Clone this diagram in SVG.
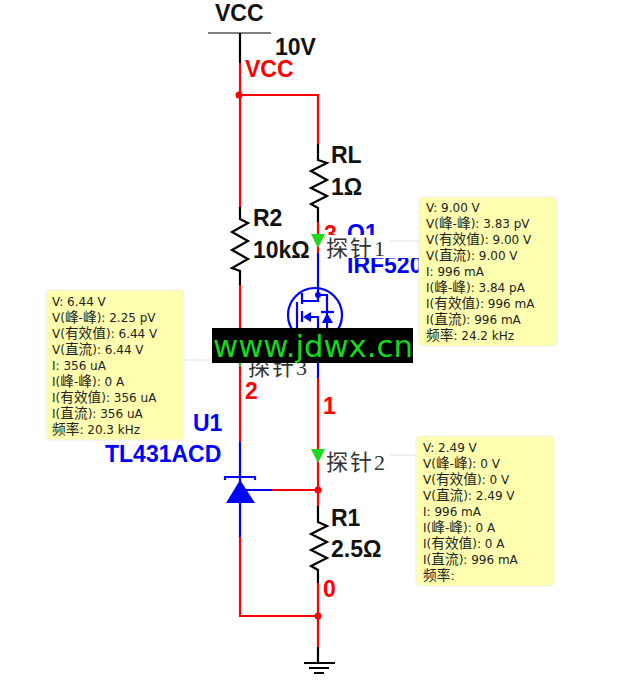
<svg xmlns="http://www.w3.org/2000/svg" width="624" height="688" viewBox="0 0 624 688">
<style>
.w{fill:none;stroke-width:2.2;stroke-linejoin:miter}
.r{stroke:#f00}.k{stroke:#000}.b{stroke:#00f}
.l{font:bold 23px "Liberation Sans",Arial,sans-serif}
.blk{fill:#111}.red{fill:#f00}.blu{fill:#00f}
.p{font:22px "Liberation Serif","Noto Sans CJK SC",serif;fill:#333;letter-spacing:2px}
.tip{fill:#ffffb0;stroke:#eee;stroke-width:1}
.t{font:12px "DejaVu Sans","Noto Sans CJK SC",sans-serif;fill:#222}
.c{font-size:13.7px}
.g{stroke:#e4e4e4;stroke-width:1;fill:none}
.pr{fill:#1fd81f}
.bg{fill:#fff}
</style>
<rect width="624" height="688" fill="#fff"/>
<g id="connectors">
<path class="w k" d="M240 33V63"/>
<path class="w r" d="M240 63V207M240 285V442M240 95H318V144"/>
<path class="w r" d="M318 222V253M318 378V506M318 583V647M240 537V616H318M272 490H318"/>
<path class="w b" d="M240 442V537M240 490H272M318 253V295M318 363V378"/>
<path class="w k" d="M318 647V662"/>
<circle class="red" cx="239" cy="95" r="3.5"/>
<circle class="red" cx="318" cy="490" r="3.5"/>
<circle class="red" cx="318" cy="616" r="3.5"/>
</g>
<g id="VCC">
<path d="M208 33H271" stroke="#000" stroke-width="1" fill="none"/>
<text class="l blk" x="215" y="21">VCC</text>
<text class="l blk" x="275" y="55">10V</text>
<text class="l red" x="245" y="77">VCC</text>
</g>
<g id="RL">
<path class="w k" d="M318 144V160L327 163L311 171L327 180L311 188L327 196L311 204L318 208V222"/>
<text class="l blk" x="331" y="163">RL</text>
<text class="l blk" x="331" y="195">1Ω</text>
</g>
<g id="R2">
<path class="w k" d="M240 207V219L248 223L232 232L248 241L232 250L248 259L232 268L240 271V285"/>
<text class="l blk" x="253" y="226">R2</text>
<text class="l blk" x="253" y="258">10kΩ</text>
</g>
<g id="R1">
<path class="w k" d="M318 506V522L327 526L311 534L327 542L311 550L327 558L311 566L318 570V583"/>
<text class="l blk" x="331" y="526">R1</text>
<text class="l blk" x="331" y="557">2.5Ω</text>
</g>
<g id="Q1">
<circle class="w b" cx="315" cy="315" r="27"/>
<path class="w b" d="M297 302V345M302 293V304M302 311V322M302 330V345M302 301H318V295M318 295H327V340M306 317H318V345"/>
<path class="blu" d="M303 317L311 312V322Z"/>
<path class="blu" d="M327 313L322 323H333Z"/>
<path class="w b" d="M321 312H334"/>
<circle class="blu" cx="318" cy="295" r="3"/>
<text class="l blu" x="347" y="241">Q1</text>
<text class="l blu" x="347" y="273">IRF520</text>
</g>
<g id="U1">
<path class="blu" d="M240 480L226 503H255Z"/>
<path class="w b" d="M225 480V477H255V480"/>
<text class="l blu" x="193" y="431">U1</text>
<text class="l blu" x="105" y="462">TL431ACD</text>
</g>
<g id="GND">
<path d="M304 663H335M309 668H329M314 673H324" stroke="#000" stroke-width="2" fill="none"/>
</g>
<g id="net-labels">
<text class="l red" x="324" y="242">3</text>
<text class="l red" x="323" y="414">1</text>
<text class="l red" x="245" y="399">2</text>
<text class="l red" x="323" y="597">0</text>
</g>
<g id="probe1">
<rect class="bg" x="325" y="235" width="94" height="23"/>
<path class="g" d="M390 241H419"/>
<path class="pr" d="M318 248L311 234H325Z"/>
<text class="p" x="326" y="256">探针1</text>
</g>
<g id="probe3">
<rect class="bg" x="248" y="350" width="64" height="28"/>
<path class="g" d="M183 360H212"/>
<path class="pr" d="M240 367L233 353H247Z"/>
<text class="p" x="248" y="375">探针3</text>
</g>
<g id="probe2">
<path class="g" d="M390 455H416"/>
<path class="pr" d="M318 463L311 449H325Z"/>
<text class="p" x="326" y="470">探针2</text>
</g>
<g id="tip1">
<rect class="tip" x="419" y="197" width="138" height="149" rx="4"/>
<text class="t" x="426" y="212">V: 9.00 V</text>
<text class="t" x="426" y="228">V(<tspan class="c">峰</tspan>-<tspan class="c">峰</tspan>): 3.83 pV</text>
<text class="t" x="426" y="244">V(<tspan class="c">有效值</tspan>): 9.00 V</text>
<text class="t" x="426" y="260">V(<tspan class="c">直流</tspan>): 9.00 V</text>
<text class="t" x="426" y="276">I: 996 mA</text>
<text class="t" x="426" y="292">I(<tspan class="c">峰</tspan>-<tspan class="c">峰</tspan>): 3.84 pA</text>
<text class="t" x="426" y="308">I(<tspan class="c">有效值</tspan>): 996 mA</text>
<text class="t" x="426" y="324">I(<tspan class="c">直流</tspan>): 996 mA</text>
<text class="t" x="426" y="340"><tspan class="c">频率</tspan>: 24.2 kHz</text>
</g>
<g id="tip3">
<rect class="tip" x="46" y="290" width="138" height="150" rx="4"/>
<text class="t" x="52" y="306">V: 6.44 V</text>
<text class="t" x="52" y="322">V(<tspan class="c">峰</tspan>-<tspan class="c">峰</tspan>): 2.25 pV</text>
<text class="t" x="52" y="338">V(<tspan class="c">有效值</tspan>): 6.44 V</text>
<text class="t" x="52" y="354">V(<tspan class="c">直流</tspan>): 6.44 V</text>
<text class="t" x="52" y="370">I: 356 uA</text>
<text class="t" x="52" y="386">I(<tspan class="c">峰</tspan>-<tspan class="c">峰</tspan>): 0 A</text>
<text class="t" x="52" y="402">I(<tspan class="c">有效值</tspan>): 356 uA</text>
<text class="t" x="52" y="418">I(<tspan class="c">直流</tspan>): 356 uA</text>
<text class="t" x="52" y="434"><tspan class="c">频率</tspan>: 20.3 kHz</text>
</g>
<g id="tip2">
<rect class="tip" x="416" y="436" width="138" height="150" rx="4"/>
<text class="t" x="423" y="452">V: 2.49 V</text>
<text class="t" x="423" y="468">V(<tspan class="c">峰</tspan>-<tspan class="c">峰</tspan>): 0 V</text>
<text class="t" x="423" y="484">V(<tspan class="c">有效值</tspan>): 0 V</text>
<text class="t" x="423" y="500">V(<tspan class="c">直流</tspan>): 2.49 V</text>
<text class="t" x="423" y="516">I: 996 mA</text>
<text class="t" x="423" y="532">I(<tspan class="c">峰</tspan>-<tspan class="c">峰</tspan>): 0 A</text>
<text class="t" x="423" y="548">I(<tspan class="c">有效值</tspan>): 0 A</text>
<text class="t" x="423" y="564">I(<tspan class="c">直流</tspan>): 996 mA</text>
<text class="t" x="423" y="580"><tspan class="c">频率</tspan>:</text>
</g>
<g id="watermark">
<rect x="212" y="328" width="201" height="35" fill="#000"/>
<text x="213" y="357" font-family="'DejaVu Sans',sans-serif" font-size="30" fill="#14d81e" textLength="200" lengthAdjust="spacingAndGlyphs">www.jdwx.cn</text>
</g>
</svg>
